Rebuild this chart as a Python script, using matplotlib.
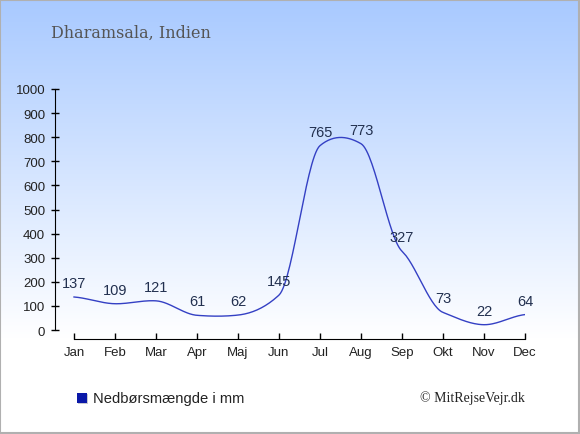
import numpy as np
import matplotlib
matplotlib.use("Agg")
import matplotlib.pyplot as plt

# data
months = ['Jan', 'Feb', 'Mar', 'Apr', 'Maj', 'Jun', 'Jul', 'Aug', 'Sep', 'Okt', 'Nov', 'Dec']
rain = [137, 109, 121, 61, 62, 145, 765, 773, 327, 73, 22, 64]
yticks = [0, 100, 200, 300, 400, 500, 600, 700, 800, 900, 1000]
title = 'Dharamsala, Indien'
legend_text = 'Nedbørsmængde i mm'
credit = '© MitRejseVejr.dk'


def smooth(xs, ys, s=0.45, n=30):
    # cardinal spline through the points, just for drawing the curve
    xs = np.asarray(xs, float)
    ys = np.asarray(ys, float)
    m = np.zeros_like(ys)
    m[1:-1] = (ys[2:] - ys[:-2]) / 2 * s
    m[0] = (ys[1] - ys[0]) * s
    m[-1] = (ys[-1] - ys[-2]) * s
    ox, oy = [], []
    for i in range(len(xs) - 1):
        t = np.linspace(0, 1, n, endpoint=False)
        h00 = 2 * t**3 - 3 * t**2 + 1
        h10 = t**3 - 2 * t**2 + t
        h01 = -2 * t**3 + 3 * t**2
        h11 = t**3 - t**2
        ox.extend(xs[i] + t * (xs[i + 1] - xs[i]))
        oy.extend(h00 * ys[i] + h10 * m[i] + h01 * ys[i + 1] + h11 * m[i + 1])
    ox.append(xs[-1])
    oy.append(ys[-1])
    return np.array(ox), np.array(oy)


W, H = 580, 435
fig = plt.figure(figsize=(W / 100, H / 100), dpi=100)

# background gradient
bg = fig.add_axes([0, 0, 1, 1], zorder=-10)
rows = np.linspace(0, 1, 435)
frac = np.clip(rows / 0.78, 0, 1)
top = np.array([0.66, 0.79, 1.0])
col = top[None, :] * (1 - frac[:, None]) + np.ones(3)[None, :] * frac[:, None]
img = np.repeat(col[:, None, :], 2, axis=1)
bg.imshow(img, aspect='auto', extent=[0, 1, 0, 1])
bg.set_xlim(0, 1)
bg.set_ylim(0, 1)
bg.axis('off')
bg.add_patch(plt.Rectangle((0.0008, 0.0012), 0.9975, 0.9965, fill=False,
                           edgecolor='#b0b0b0', linewidth=1.5))
# legend square with a faint shadow
bg.add_patch(plt.Rectangle((78 / W, 1 - 405 / H), 10 / W, 10 / H,
                           facecolor='#c8c8d0', edgecolor='none'))
bg.add_patch(plt.Rectangle((77 / W, 1 - 404 / H), 10 / W, 10 / H,
                           facecolor='#0a18a8', edgecolor='none'))

ax = fig.add_axes([55 / W, (H - 340) / H, (525 - 55) / W, (340 - 90) / H])
ax.patch.set_alpha(0)

x = np.arange(len(months))
sx, sy = smooth(x, rain)
ax.plot(sx, sy, color='#3440c4', linewidth=1.0)

for xi, v in zip(x, rain):
    ax.annotate(str(v), (xi, v), xytext=(0, 5), textcoords='offset points',
                ha='center', va='bottom', fontsize=10.5, color='#22304f',
                family='Liberation Sans')

ax.set_xlim(-19 / 41, 11)
ax.set_ylim(-37.3, 1000)
for s in ['top', 'right']:
    ax.spines[s].set_visible(False)
ax.spines['left'].set_bounds(0, 1000)
ax.spines['bottom'].set_bounds(0, 11)
ax.set_xticks(x)
ax.set_xticklabels(months, family='Liberation Sans', fontsize=9.5, color='#222222')
ax.set_yticks(yticks)
ax.set_yticklabels([str(t) for t in yticks], family='Liberation Sans', fontsize=9.5,
                   color='#222222')
ax.tick_params(axis='y', direction='inout', length=6, width=1, pad=4)
ax.tick_params(axis='x', direction='in', length=4, width=1, pad=5)

fig.text(51 / W, 1 - 33 / H, title, family='DejaVu Serif', fontsize=11.5,
         color='#555555', va='center', ha='left')

fig.text(93 / W, 1 - 399 / H, legend_text, family='Liberation Sans', fontsize=10.6,
         color='#222222', va='center', ha='left')
fig.text(525 / W, 1 - 398 / H, credit, family='Liberation Serif', fontsize=10,
         color='#222222', va='center', ha='right')

fig.savefig('out.png', dpi=100)
